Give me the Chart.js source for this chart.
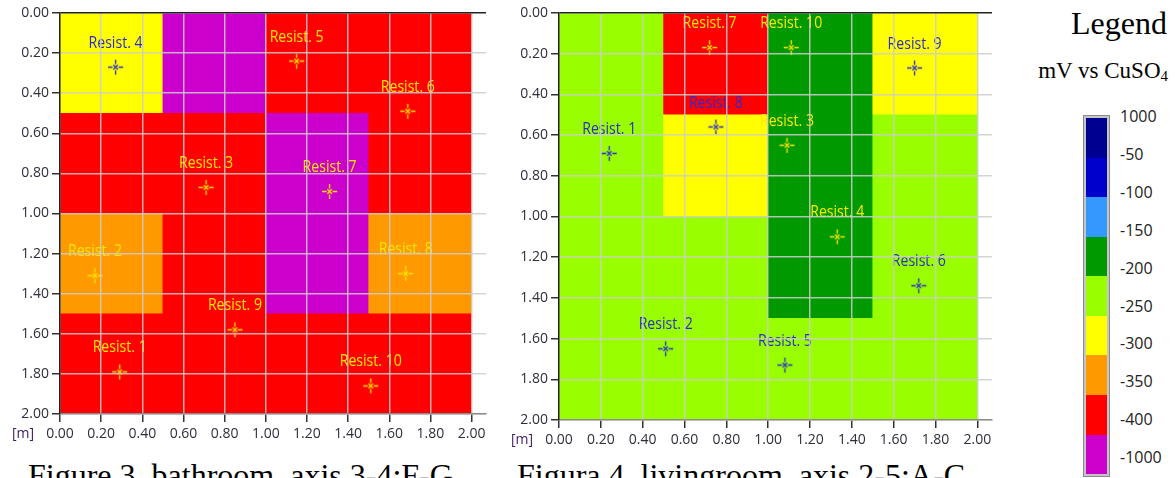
<!DOCTYPE html>
<html>
<head>
<meta charset="utf-8">
<script src="https://cdn.jsdelivr.net/npm/chart.js@4.4.1/dist/chart.umd.min.js"></script>
<style>
  body { margin: 0; width: 1175px; height: 478px; overflow: hidden; background: #fff; position: relative; }
  canvas { position: absolute; top: 0; }
  .caption { position: absolute; top: 459px; font: 32px/32px "Liberation Serif", serif; color: #000; white-space: nowrap; }
  #legendTitle { position: absolute; right: 8px; top: 7px; font: 32px/32px "Liberation Serif", serif; color: #000; }
  #legendUnit { position: absolute; right: 7px; top: 59px; font: 23px/23px "Liberation Serif", serif; color: #000; white-space: nowrap; }
  #legendUnit sub { font-size: 15px; vertical-align: -3px; line-height: 0; }
  #colorbar { position: absolute; left: 1083px; top: 115px; border: 1px solid #8a8a8a; padding: 2px; background: #c6c6c6; }
  #colorbar .inner { width: 21px; height: 356px; display: flex; flex-direction: column; }
  #colorbar .inner div { flex: 1; }
  .lvl { position: absolute; left: 1120px; font: 16px/20px "Open Sans", sans-serif; color: #222; }
</style>
</head>
<body>
<canvas id="bathroom" width="500" height="452" style="left:0"></canvas>
<canvas id="livingroom" width="500" height="452" style="left:500px"></canvas>
<div class="caption" style="left:28px">Figure 3. bathroom, axis 3-4;F-G</div>
<div class="caption" style="left:517px">Figura 4. livingroom, axis 2-5;A-C</div>
<div id="legendTitle">Legend</div>
<div id="legendUnit">mV vs CuSO<sub>4</sub></div>
<div id="colorbar"><div class="inner"></div></div>
<script>
// colour scale of the potential map, from the top of the bar down (mV vs CuSO4)
const bandLimits = [1000, -50, -100, -150, -200, -250, -300, -350, -400, -1000];
const bandColors = ['#000090', '#0000cc', '#3399ff', '#009900', '#99ff00', '#ffff00', '#ff9900', '#ff0000', '#cc00cc'];

// potential per 0.5 m square, rows start at the 0.00 edge
const bathCells = [
    [-275, -450, -375, -375],
    [-375, -375, -450, -375],
    [-325, -375, -450, -325],
    [-375, -375, -375, -375]
];
const livingCells = [
    [-225, -375, -175, -275],
    [-225, -275, -175, -225],
    [-225, -225, -175, -225],
    [-225, -225, -225, -225]
];

// resistance measuring points [m]
const bathNames = ['Resist. 1', 'Resist. 2', 'Resist. 3', 'Resist. 4', 'Resist. 5',
                   'Resist. 6', 'Resist. 7', 'Resist. 8', 'Resist. 9', 'Resist. 10'];
const bathX = [0.29, 0.17, 0.71, 0.27, 1.15, 1.69, 1.31, 1.68, 0.85, 1.51];
const bathY = [1.79, 1.31, 0.87, 0.27, 0.24, 0.49, 0.89, 1.30, 1.58, 1.86];

const livingNames = ['Resist. 1', 'Resist. 2', 'Resist. 3', 'Resist. 4', 'Resist. 5',
                     'Resist. 6', 'Resist. 7', 'Resist. 8', 'Resist. 9', 'Resist. 10'];
const livingX = [0.24, 0.51, 1.09, 1.33, 1.08, 1.72, 0.72, 0.75, 1.70, 1.11];
const livingY = [0.69, 1.65, 0.65, 1.10, 1.73, 1.34, 0.17, 0.56, 0.27, 0.17];

const gridColor = 'rgba(205,205,205,0.85)';
const sans = '"Open Sans", sans-serif';

function bandIndex(v) {
    for (let i = 0; i < bandColors.length; i++) {
        if (v <= bandLimits[i] && v >= bandLimits[i + 1]) return i;
    }
    return bandColors.length - 1;
}

// small "-x-" marker used for the measuring points
function makeMarker(color) {
    const c = document.createElement('canvas');
    c.width = 17;
    c.height = 17;
    const g = c.getContext('2d');
    g.strokeStyle = color;
    g.lineWidth = 1.3;
    g.beginPath();
    g.moveTo(1, 8.5); g.lineTo(5.5, 8.5);
    g.moveTo(11.5, 8.5); g.lineTo(16, 8.5);
    g.moveTo(8.5, 1); g.lineTo(8.5, 5.5);
    g.moveTo(8.5, 11.5); g.lineTo(8.5, 16);
    g.moveTo(6.3, 6.3); g.lineTo(10.7, 10.7);
    g.moveTo(10.7, 6.3); g.lineTo(6.3, 10.7);
    g.stroke();
    return c;
}

const resistLabels = {
    id: 'resistLabels',
    afterDatasetsDraw(chart) {
        const ctx = chart.ctx;
        chart.data.datasets.forEach((ds, i) => {
            if (!ds.names) return;
            chart.getDatasetMeta(i).data.forEach((pt, j) => {
                // slightly condensed lettering
                ctx.save();
                ctx.translate(pt.x, pt.y - 24);
                ctx.scale(0.88, 1);
                ctx.font = '16px ' + sans;
                ctx.fillStyle = ds.markerColors[j];
                ctx.textAlign = 'center';
                ctx.textBaseline = 'middle';
                ctx.fillText(ds.names[j], 0, 0);
                ctx.restore();
            });
        });
    },
    afterDraw(chart) {
        const {ctx, chartArea} = chart;
        ctx.save();
        ctx.font = '14px ' + sans;
        ctx.fillStyle = '#3c1a66';
        ctx.textAlign = 'left';
        ctx.textBaseline = 'middle';
        ctx.fillText('[m]', chartArea.left - 48, chartArea.bottom + 20.5);
        ctx.restore();
    }
};

function drawPlan(id, cells, names, xs, ys, frame) {
    const size = 2 / cells.length;
    const cellData = [];
    const cellColors = [];
    cells.forEach((row, r) => row.forEach((v, c) => {
        cellData.push({x: (c + 0.5) * size, y: [r * size, (r + 1) * size]});
        cellColors.push(bandColors[bandIndex(v)]);
    }));

    // blue marks on the light squares, yellow on the dark ones
    const markerColors = xs.map((x, i) => {
        const b = bandIndex(cells[Math.floor(ys[i] / size)][Math.floor(x / size)]);
        return (b === 4 || b === 5) ? '#2b2bd4' : '#ffe800';
    });

    const tickFont = {family: sans, size: 14};

    new Chart(document.getElementById(id), {
        type: 'scatter',
        data: {
            datasets: [{
                type: 'bar',
                order: 2,
                data: cellData,
                xAxisID: 'cells',
                backgroundColor: cellColors,
                borderWidth: 0,
                barPercentage: 1,
                categoryPercentage: 1
            }, {
                type: 'scatter',
                order: 1,
                data: xs.map((x, i) => ({x: x, y: ys[i]})),
                names: names,
                markerColors: markerColors,
                pointStyle: markerColors.map(makeMarker),
                pointRadius: 7
            }]
        },
        options: {
            responsive: false,
            animation: false,
            events: [],
            layout: {padding: {left: 0, top: 13, right: frame.padRight, bottom: 0}},
            plugins: {legend: {display: false}, tooltip: {enabled: false}},
            scales: {
                cells: {
                    type: 'linear', axis: 'x', position: 'bottom', display: false,
                    min: 0, max: 2.07, offset: false,
                    ticks: {stepSize: 0.5, includeBounds: false}
                },
                x: {
                    type: 'linear', position: 'bottom', min: 0, max: 2.07, offset: false,
                    ticks: {
                        stepSize: 0.2, includeBounds: false, autoSkip: false, maxRotation: 0,
                        padding: 4, color: '#2e2e3c', font: tickFont,
                        callback: v => v.toFixed(2)
                    },
                    grid: {z: 1, color: gridColor, lineWidth: 1.5, tickLength: 8, tickColor: '#333', tickWidth: 1.5, offset: false},
                    border: {z: 2, color: '#8c8c8c', width: 1.5},
                    afterFit: s => { s.height = frame.axisHeight; }
                },
                y: {
                    type: 'linear', reverse: true, min: 0, max: 2,
                    ticks: {
                        stepSize: 0.2, padding: 3, color: '#2e2e3c', font: tickFont,
                        callback: v => v.toFixed(2)
                    },
                    grid: {
                        z: 1,
                        color: ctx => (ctx.tick && ctx.tick.value === 0) ? '#222' : gridColor,
                        lineWidth: 1.5, tickLength: 8, tickColor: '#333', tickWidth: 1.5
                    },
                    border: {z: 2, color: '#222', width: 1.5},
                    afterFit: s => { s.width = frame.axisWidth; }
                }
            }
        },
        plugins: [resistLabels]
    });
}

drawPlan('bathroom', bathCells, bathNames, bathX, bathY, {axisWidth: 60, axisHeight: 38, padRight: 14});
drawPlan('livingroom', livingCells, livingNames, livingX, livingY, {axisWidth: 59, axisHeight: 32, padRight: 7});

// colour bar of the legend
const bar = document.querySelector('#colorbar .inner');
bandColors.forEach(c => {
    const d = document.createElement('div');
    d.style.background = c;
    bar.appendChild(d);
});
bandLimits.forEach((v, i) => {
    const d = document.createElement('div');
    d.className = 'lvl';
    d.textContent = v;
    d.style.top = (106 + i * 37.9) + 'px';
    document.body.appendChild(d);
});
</script>
</body>
</html>
